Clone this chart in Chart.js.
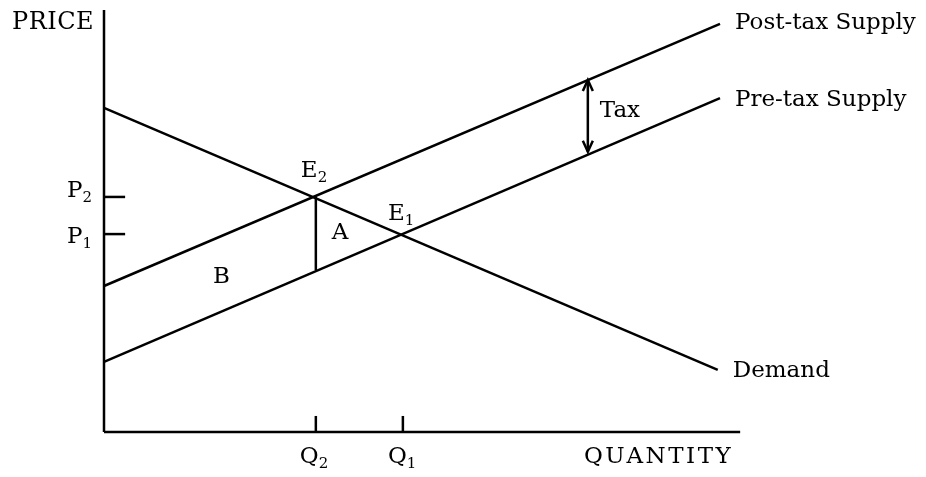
<!DOCTYPE html>
<html><head><meta charset="utf-8">
<script src="https://cdn.jsdelivr.net/npm/chart.js@4"></script>
<style>html,body{margin:0;padding:0;background:#fff}canvas{display:block}</style>
</head><body>
<canvas id="c" width="926" height="477"></canvas>
<script>
// ---- data (abstract price / quantity units) ----
const quantityTicks = [3.31, 4.67];          // Q2, Q1
const quantityNames = ['2', '1'];
const priceTicks = [5.57, 4.69];             // P2, P1
const priceNames = ['2', '1'];
const demand = [{x: 0, y: 7.68}, {x: 9.59, y: 1.47}];
const preTaxSupply = [{x: 0, y: 1.66}, {x: 9.625, y: 7.91}];
const postTaxSupply = [{x: 0, y: 3.46}, {x: 9.625, y: 9.67}];
const taxGap = [{x: 7.56, y: 8.34}, {x: 7.56, y: 6.64}];
const wedgeAtQ2 = [{x: 3.31, y: 5.57}, {x: 3.31, y: 3.84}];
const axisEnds = {x: 9.94, y: 10};
const tickLen = {x: 0.33, y: 0.38};

// ---- datasets ----
const line = (data) => ({data, borderColor: '#000', borderWidth: 2.5, pointRadius: 0, showLine: true, fill: false, tension: 0, clip: false});
const datasets = [
  line([{x: 0, y: 0}, {x: 0, y: axisEnds.y}]),
  line([{x: 0, y: 0}, {x: axisEnds.x, y: 0}]),
  line(demand),
  line(preTaxSupply),
  line(postTaxSupply),
  line(wedgeAtQ2),
  line(taxGap),
];
priceTicks.forEach(p => datasets.push(line([{x: 0, y: p}, {x: tickLen.x, y: p}])));
quantityTicks.forEach(q => datasets.push(line([{x: q, y: 0}, {x: q, y: tickLen.y}])));
const TAX_INDEX = 6;

// ---- text labels anchored to data points, with pixel nudges ----
const textLabels = [
  {main: 'PRICE', at: {x: 0, y: axisEnds.y}, dx: -92, dy: 19, size: 24, spacing: 0.5},
  {main: 'QUANTITY', at: {x: axisEnds.x, y: 0}, dx: -7, dy: 31, align: 'right', size: 23, spacing: 2.5},
  {main: 'Q', sub: quantityNames[0], at: {x: quantityTicks[0], y: 0}, dx: -16, dy: 31},
  {main: 'Q', sub: quantityNames[1], at: {x: quantityTicks[1], y: 0}, dx: -15, dy: 31},
  {main: 'P', sub: priceNames[0], at: {x: 0, y: priceTicks[0]}, dx: -37, dy: 0},
  {main: 'P', sub: priceNames[1], at: {x: 0, y: priceTicks[1]}, dx: -37, dy: 9},
  {main: 'E', sub: '2', at: {x: quantityTicks[0], y: priceTicks[0]}, dx: -15, dy: -20},
  {main: 'E', sub: '1', at: {x: quantityTicks[1], y: priceTicks[1]}, dx: -15, dy: -14},
  {main: 'A', at: {x: quantityTicks[0], y: priceTicks[1]}, dx: 16, dy: 5},
  {main: 'B', at: {x: 0, y: priceTicks[1]}, dx: 109, dy: 49},
  {main: 'Tax', at: taxGap[0], dx: 12, dy: 37},
  {main: 'Post-tax Supply', at: postTaxSupply[1], dx: 15, dy: 5},
  {main: 'Pre-tax Supply', at: preTaxSupply[1], dx: 15, dy: 8},
  {main: 'Demand', at: demand[1], dx: 15, dy: 7},
];

const FAMILY = '"DejaVu Serif"';

const annotate = {
  id: 'annotate',
  afterDatasetsDraw(chart) {
    const ctx = chart.ctx, xs = chart.scales.x, ys = chart.scales.y;
    ctx.save();
    // arrow heads on the tax gap
    const pts = chart.getDatasetMeta(TAX_INDEX).data;
    ctx.strokeStyle = '#000'; ctx.lineWidth = 2.5; ctx.lineJoin = 'miter';
    const head = (px, py, dir) => {
      ctx.beginPath();
      ctx.moveTo(px - 5, py + dir * 11);
      ctx.lineTo(px, py);
      ctx.lineTo(px + 5, py + dir * 11);
      ctx.stroke();
    };
    head(pts[0].x, pts[0].y, 1);
    head(pts[1].x, pts[1].y, -1);
    // labels
    ctx.fillStyle = '#000';
    ctx.textBaseline = 'alphabetic';
    ctx.textAlign = 'left';
    textLabels.forEach(l => {
      const px = xs.getPixelForValue(l.at.x) + l.dx;
      const py = ys.getPixelForValue(l.at.y) + l.dy;
      ctx.font = (l.size || 23) + 'px ' + FAMILY;
      ctx.letterSpacing = (l.spacing || 0) + 'px';
      const w = ctx.measureText(l.main).width;
      const sx = l.align === 'right' ? px - w : px;
      ctx.fillText(l.main, sx, py);
      ctx.letterSpacing = '0px';
      if (l.sub) {
        ctx.font = '15px ' + FAMILY;
        ctx.fillText(l.sub, sx + w, py + 5);
      }
    });
    ctx.restore();
  }
};

new Chart(document.getElementById('c'), {
  type: 'scatter',
  data: {datasets},
  options: {
    responsive: false,
    animation: false,
    layout: {padding: {left: 104, top: 10, right: 182, bottom: 45}},
    plugins: {legend: {display: false}, tooltip: {enabled: false}},
    scales: {
      x: {type: 'linear', min: 0, max: 10, display: false},
      y: {type: 'linear', min: 0, max: 10, display: false}
    }
  },
  plugins: [annotate]
});
</script>
</body></html>
